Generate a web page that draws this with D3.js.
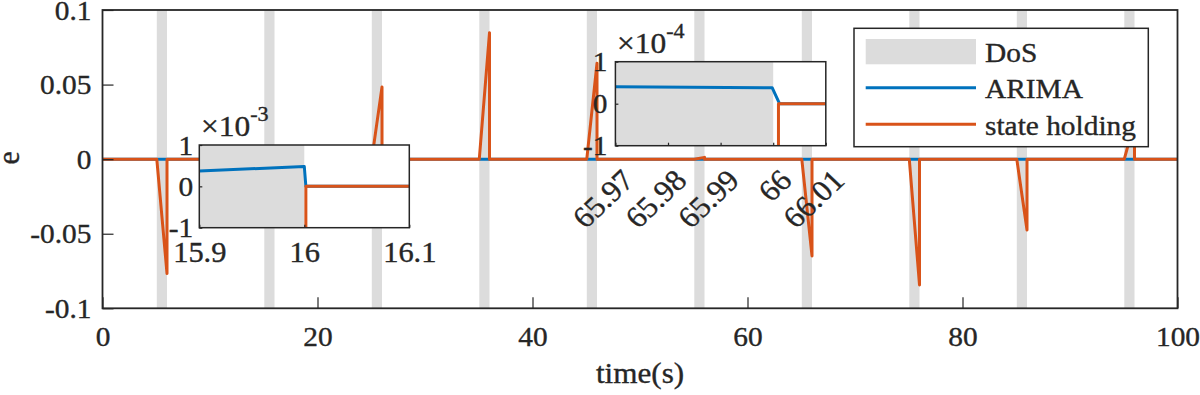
<!DOCTYPE html>
<html>
<head>
<meta charset="utf-8">
<script src="https://cdn.jsdelivr.net/npm/d3@7"></script>
<style>
  body { margin: 0; background: #fff; }
  svg { display: block; }
  text { font-family: "Liberation Serif", "Times New Roman", serif; fill: #262626;
         stroke: #262626; stroke-width: 0.35px; }
</style>
</head>
<body>
<div id="chart"></div>
<script>
// DoS windows (s)
const dosStart = [5.05, 15.05, 25.05, 35.05, 45.05, 55.05, 65.05, 75.05, 85.05, 95.05];
const dosEnd   = [6, 16, 26, 36, 46, 56, 66, 76, 86, 96];
// state holding error: value reached at the end of each DoS, and the time it drops back
const holdPeak = [-0.0767, -0.03, 0.0484, 0.0848, 0.0643, 0.0012, -0.0649, -0.0843, -0.0475, 0.025];
const holdDrop = [6.001, 16.0015, 26.001, 36.001, 46.001, 56.001, 66.001, 76.001, 86.001, 96.001];
// ARIMA error, full range
const arimaT = [0, 100];
const arimaE = [0, 0];
// ARIMA error near t=16 and t=66 (zoomed)
const zoom1T = [15.9, 16.0, 16.0015, 16.1];
const zoom1E = [0.37e-3, 0.48e-3, 0, 0];
const zoom2T = [65.97, 65.9998, 66.0012, 66.01];
const zoom2E = [0.405e-4, 0.38e-4, 0, 0];

const xTicks = [0, 20, 40, 60, 80, 100];
const yTicks = [-0.1, -0.05, 0, 0.05, 0.1];
const zoom1XTicks = [15.9, 16, 16.1];
const zoom1YTicks = [-1e-3, 0, 1e-3];
const zoom2XTicks = [65.97, 65.98, 65.99, 66, 66.01];
const zoom2YTicks = [-1e-4, 0, 1e-4];
const legendNames = ["DoS", "ARIMA", "state holding"];

const W = 1200, H = 395;
const BLUE = "#0072BD", ORANGE = "#D95319", GREY = "#dcdcdc", INK = "#262626";
const FONT = '"Liberation Serif", "Times New Roman", serif';
const FS = 28, SX = 1.05;

const svg = d3.select("#chart").append("svg")
    .attr("width", W).attr("height", H);

// orange series built from the points above
const holdPts = [[0, 0]];
dosStart.forEach((s, i) => {
    holdPts.push([s, 0], [holdDrop[i], holdPeak[i]], [holdDrop[i], 0]);
});
holdPts.push([100, 0]);
const arimaPts = arimaT.map((t, i) => [t, arimaE[i]]);

function stretchTexts(sel, dx, dy) {
    sel.each(function () {
        d3.select(this).attr("x", 0).attr("y", 0)
          .attr("transform", `translate(${dx},${dy}) scale(${SX},1)`);
    });
}

function panel(g, xs, ys, opts) {
    const [x0, x1] = xs.range(), [y0, y1] = ys.range();
    const id = opts.id;
    if (opts.bg) {
        g.append("rect").attr("x", x0).attr("y", y1)
            .attr("width", x1 - x0).attr("height", y0 - y1).attr("fill", "#fff");
    }
    g.append("clipPath").attr("id", id).append("rect")
        .attr("x", x0).attr("y", y1).attr("width", x1 - x0).attr("height", y0 - y1);
    const c = g.append("g").attr("clip-path", `url(#${id})`);

    c.selectAll("rect.dos").data(dosStart).join("rect")
        .attr("class", "dos")
        .attr("x", (d) => xs(d))
        .attr("width", (d, i) => xs(dosEnd[i]) - xs(d))
        .attr("y", y1).attr("height", y0 - y1)
        .attr("fill", GREY);

    const line = d3.line().x((d) => xs(d[0])).y((d) => ys(d[1]));
    c.append("path").datum(opts.arima).attr("d", line)
        .attr("fill", "none").attr("stroke", BLUE).attr("stroke-width", 3)
        .attr("stroke-linejoin", "round");
    c.append("path").datum(holdPts).attr("d", line)
        .attr("fill", "none").attr("stroke", ORANGE).attr("stroke-width", 3)
        .attr("stroke-linejoin", "round");

    // axes
    const xa = g.append("g").attr("transform", `translate(0,${y0})`)
        .call(d3.axisBottom(xs).tickValues(opts.xTicks).tickFormat(opts.xFmt)
            .tickSizeInner(-opts.tick).tickSizeOuter(0));
    const ya = g.append("g").attr("transform", `translate(${x0},0)`)
        .call(d3.axisLeft(ys).tickValues(opts.yTicks).tickFormat(opts.yFmt)
            .tickSizeInner(-opts.tick).tickSizeOuter(0));
    [xa, ya].forEach((a) => {
        a.attr("font-family", null).attr("font-size", null);
        a.select(".domain").remove();
        a.selectAll(".tick line").attr("stroke", INK).attr("stroke-width", 1.2);
        a.selectAll("text").attr("font-family", FONT).attr("fill", INK);
    });
    ya.selectAll("text").attr("font-size", opts.fs);
    xa.selectAll("text").attr("font-size", opts.xfs || opts.fs);
    stretchTexts(ya.selectAll("text").attr("text-anchor", "end").attr("dy", "0.33em"),
        -opts.yPad, 0);
    if (opts.rotate) {
        xa.selectAll("text").attr("text-anchor", "end").attr("dy", "0.35em")
            .each(function () {
                d3.select(this).attr("x", 0).attr("y", 0)
                    .attr("transform", `translate(${opts.rotate[0]},${opts.rotate[1]}) scale(${SX},1) rotate(-45)`);
            });
    } else {
        stretchTexts(xa.selectAll("text").attr("dy", "0.71em"), 0, opts.xPad);
    }

    g.append("rect").attr("x", x0).attr("y", y1)
        .attr("width", x1 - x0).attr("height", y0 - y1)
        .attr("fill", "none").attr("stroke", INK).attr("stroke-width", opts.frame);
}

// main axes
const x = d3.scaleLinear().domain([0, 100]).range([102.5, 1177.5]);
const y = d3.scaleLinear().domain([-0.1, 0.1]).range([308.3, 10]);
panel(svg.append("g"), x, y, {
    id: "clipMain", arima: arimaPts, tick: 11, fs: FS, frame: 1.8,
    xTicks: xTicks, yTicks: yTicks,
    xFmt: (d) => String(d), yFmt: (d) => String(d),
    xPad: 18, yPad: 11
});

svg.append("text").attr("font-size", FS * 1.06)
    .attr("text-anchor", "middle")
    .attr("transform", `translate(640,383) scale(${SX},1)`)
    .text("time(s)");
svg.append("text").attr("font-size", FS * 1.06)
    .attr("text-anchor", "middle")
    .attr("transform", `translate(19,158) scale(${SX},1) rotate(-90)`)
    .text("e");

// inset around t = 16
const x1 = d3.scaleLinear().domain([15.9, 16.1]).range([199.3, 409.3]);
const y1 = d3.scaleLinear().domain([-1e-3, 1e-3]).range([227.7, 145]);
panel(svg.append("g"), x1, y1, {
    id: "clipZ1", bg: true, arima: zoom1T.map((t, i) => [t, zoom1E[i]]),
    tick: 3, fs: FS, xfs: 29, frame: 1.5,
    xTicks: zoom1XTicks, yTicks: zoom1YTicks,
    xFmt: (d) => String(d), yFmt: (d) => String(Math.round(d / 1e-3)),
    xPad: 14, yPad: 6
});
const e1 = svg.append("text").attr("font-size", 30)
    .attr("transform", `translate(201,136) scale(${SX},1)`);
e1.append("tspan").text("\u00d710");
e1.append("tspan").attr("font-size", 21).attr("dy", -15).text("-3");

// inset around t = 66
const x2 = d3.scaleLinear().domain([65.97, 66.01]).range([615.4, 825.8]);
const y2 = d3.scaleLinear().domain([-1e-4, 1e-4]).range([145.7, 61.7]);
panel(svg.append("g"), x2, y2, {
    id: "clipZ2", bg: true, arima: zoom2T.map((t, i) => [t, zoom2E[i]]),
    tick: 3, fs: FS, xfs: 30, frame: 1.5,
    xTicks: zoom2XTicks, yTicks: zoom2YTicks,
    xFmt: (d) => String(d), yFmt: (d) => String(Math.round(d / 1e-4)),
    rotate: [12, 29], yPad: 8
});
const e2 = svg.append("text").attr("font-size", 30)
    .attr("transform", `translate(617,53) scale(${SX},1)`);
e2.append("tspan").text("\u00d710");
e2.append("tspan").attr("font-size", 21).attr("dy", -15).text("-4");

// legend
const lg = svg.append("g");
lg.append("rect").attr("x", 854).attr("y", 28.3).attr("width", 294.3).attr("height", 118.4)
    .attr("fill", "#fff").attr("stroke", INK).attr("stroke-width", 1.5);
const rowY = [51.7, 87.7, 124.3];
legendNames.forEach((name, i) => {
    if (i === 0) {
        lg.append("rect").attr("x", 865.7).attr("y", rowY[i] - 12.7)
            .attr("width", 110.3).attr("height", 25.3).attr("fill", GREY);
    } else {
        lg.append("line").attr("x1", 865.7).attr("x2", 976)
            .attr("y1", rowY[i]).attr("y2", rowY[i])
            .attr("stroke", i === 1 ? BLUE : ORANGE).attr("stroke-width", 3);
    }
    lg.append("text").attr("font-size", FS)
        .attr("transform", `translate(985,${rowY[i] + 10.5}) scale(${SX},1)`)
        .text(name);
});
</script>
</body>
</html>
